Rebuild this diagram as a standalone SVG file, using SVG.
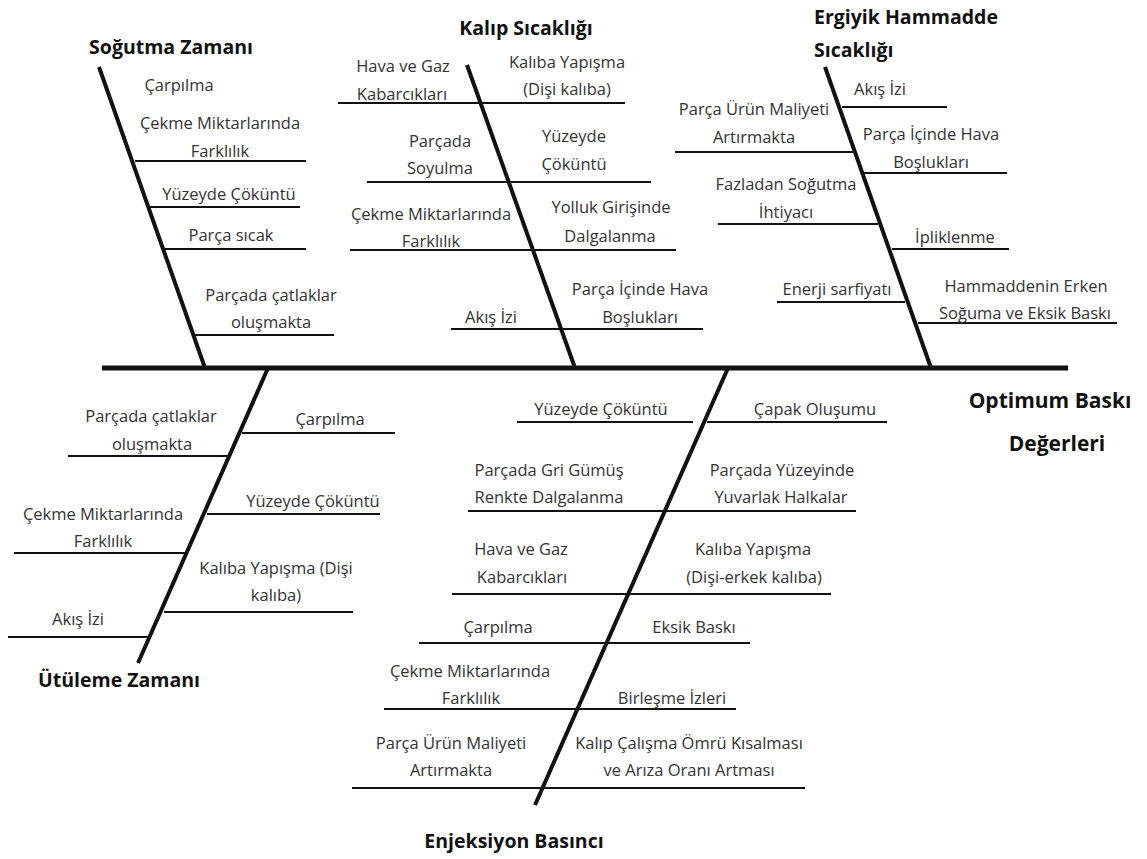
<svg xmlns="http://www.w3.org/2000/svg" width="1147" height="859" viewBox="0 0 1147 859">
<style>
.t{font-family:"Open Sans","Liberation Sans",sans-serif;font-size:16.5px;fill:#333;text-anchor:middle}
.h{font-family:"Open Sans","Liberation Sans",sans-serif;font-size:19.5px;font-weight:bold;fill:#111;text-anchor:middle}
.e{font-size:21px}
.s{stroke:#111;stroke-width:2;fill:none}
.b{stroke:#111;stroke-width:4;fill:none;stroke-linecap:butt}
.m{stroke:#111;stroke-width:5;fill:none}
</style>
<rect width="1147" height="859" fill="#fff"/>
<g id="connectors">
<line class="m" x1="102" y1="368" x2="1068" y2="368"/>
<line class="b" x1="99" y1="67" x2="205" y2="368"/>
<line class="b" x1="467" y1="65" x2="575" y2="368"/>
<line class="b" x1="825" y1="67" x2="931" y2="368"/>
<line class="b" x1="268" y1="368" x2="138" y2="663"/>
<line class="b" x1="728" y1="368" x2="535" y2="805"/>
<!-- Soğutma -->
<line class="s" x1="135" y1="161" x2="306" y2="161"/>
<line class="s" x1="148" y1="207" x2="300" y2="207"/>
<line class="s" x1="165" y1="249" x2="306" y2="249"/>
<line class="s" x1="195" y1="335" x2="334" y2="335"/>
<!-- Kalıp -->
<line class="s" x1="338" y1="103" x2="625" y2="103"/>
<line class="s" x1="367" y1="182" x2="651" y2="182"/>
<line class="s" x1="350" y1="250" x2="676" y2="250"/>
<line class="s" x1="451" y1="329" x2="703" y2="329"/>
<!-- Ergiyik -->
<line class="s" x1="842" y1="107" x2="947" y2="107"/>
<line class="s" x1="675" y1="152" x2="853" y2="152"/>
<line class="s" x1="864" y1="173" x2="1007" y2="173"/>
<line class="s" x1="718" y1="224" x2="878" y2="224"/>
<line class="s" x1="892" y1="249" x2="1009" y2="249"/>
<line class="s" x1="777" y1="302" x2="905" y2="302"/>
<line class="s" x1="918" y1="323" x2="1117" y2="323"/>
<!-- Ütüleme -->
<line class="s" x1="242" y1="433" x2="395" y2="433"/>
<line class="s" x1="68" y1="456" x2="230" y2="456"/>
<line class="s" x1="207" y1="514" x2="380" y2="514"/>
<line class="s" x1="14" y1="553" x2="185" y2="553"/>
<line class="s" x1="164" y1="612" x2="353" y2="612"/>
<line class="s" x1="8" y1="637" x2="148" y2="637"/>
<!-- Enjeksiyon -->
<line class="s" x1="517" y1="422" x2="693" y2="422"/>
<line class="s" x1="707" y1="422" x2="887" y2="422"/>
<line class="s" x1="468" y1="511" x2="856" y2="511"/>
<line class="s" x1="452" y1="594" x2="831" y2="594"/>
<line class="s" x1="419" y1="643" x2="750" y2="643"/>
<line class="s" x1="384" y1="709" x2="736" y2="709"/>
<line class="s" x1="352" y1="788" x2="805" y2="788"/>
</g>
<g id="effect">
<text class="h e" x="1050" y="408">Optimum Baskı</text>
<text class="h e" x="1057" y="451">Değerleri</text>
</g>
<g id="sogutma-zamani">
<text class="h" x="171" y="54">Soğutma Zamanı</text>
<text class="t" x="179" y="91">Çarpılma</text>
<text class="t" x="220" y="129">Çekme Miktarlarında</text>
<text class="t" x="220" y="157">Farklılık</text>
<text class="t" x="229" y="200">Yüzeyde Çöküntü</text>
<text class="t" x="231" y="241">Parça sıcak</text>
<text class="t" x="271" y="301">Parçada çatlaklar</text>
<text class="t" x="271" y="328">oluşmakta</text>
</g>
<g id="kalip-sicakligi">
<text class="h" x="526" y="35">Kalıp Sıcaklığı</text>
<text class="t" x="403" y="72">Hava ve Gaz</text>
<text class="t" x="402" y="100">Kabarcıkları</text>
<text class="t" x="567" y="68">Kalıba Yapışma</text>
<text class="t" x="567" y="95">(Dişi kalıba)</text>
<text class="t" x="440" y="147">Parçada</text>
<text class="t" x="440" y="174">Soyulma</text>
<text class="t" x="574" y="142">Yüzeyde</text>
<text class="t" x="574" y="170">Çöküntü</text>
<text class="t" x="431" y="220">Çekme Miktarlarında</text>
<text class="t" x="431" y="247">Farklılık</text>
<text class="t" x="611" y="213">Yolluk Girişinde</text>
<text class="t" x="610" y="242">Dalgalanma</text>
<text class="t" x="491" y="323">Akış İzi</text>
<text class="t" x="640" y="295">Parça İçinde Hava</text>
<text class="t" x="640" y="323">Boşlukları</text>
</g>
<g id="ergiyik-hammadde-sicakligi">
<text class="h" x="814" y="24" style="text-anchor:start">Ergiyik Hammadde</text>
<text class="h" x="814" y="57" style="text-anchor:start">Sıcaklığı</text>
<text class="t" x="880" y="95">Akış İzi</text>
<text class="t" x="754" y="115">Parça Ürün Maliyeti</text>
<text class="t" x="754" y="143">Artırmakta</text>
<text class="t" x="931" y="140">Parça İçinde Hava</text>
<text class="t" x="931" y="168">Boşlukları</text>
<text class="t" x="786" y="190">Fazladan Soğutma</text>
<text class="t" x="786" y="218">İhtiyacı</text>
<text class="t" x="955" y="243">İpliklenme</text>
<text class="t" x="837" y="295">Enerji sarfiyatı</text>
<text class="t" x="1026" y="292">Hammaddenin Erken</text>
<text class="t" x="1025" y="319">Soğuma ve Eksik Baskı</text>
</g>
<g id="utuleme-zamani">
<text class="h" x="119" y="687">Ütüleme Zamanı</text>
<text class="t" x="151" y="422">Parçada çatlaklar</text>
<text class="t" x="152" y="450">oluşmakta</text>
<text class="t" x="330" y="425">Çarpılma</text>
<text class="t" x="313" y="507">Yüzeyde Çöküntü</text>
<text class="t" x="103" y="520">Çekme Miktarlarında</text>
<text class="t" x="103" y="547">Farklılık</text>
<text class="t" x="276" y="574">Kalıba Yapışma (Dişi</text>
<text class="t" x="276" y="601">kalıba)</text>
<text class="t" x="78" y="625">Akış İzi</text>
</g>
<g id="enjeksiyon-basinci">
<text class="h" x="514" y="848">Enjeksiyon Basıncı</text>
<text class="t" x="601" y="415">Yüzeyde Çöküntü</text>
<text class="t" x="815" y="415">Çapak Oluşumu</text>
<text class="t" x="549" y="476">Parçada Gri Gümüş</text>
<text class="t" x="549" y="503">Renkte Dalgalanma</text>
<text class="t" x="782" y="476">Parçada Yüzeyinde</text>
<text class="t" x="781" y="503">Yuvarlak Halkalar</text>
<text class="t" x="521" y="555">Hava ve Gaz</text>
<text class="t" x="522" y="583">Kabarcıkları</text>
<text class="t" x="753" y="555">Kalıba Yapışma</text>
<text class="t" x="754" y="583">(Dişi-erkek kalıba)</text>
<text class="t" x="498" y="633">Çarpılma</text>
<text class="t" x="694" y="633">Eksik Baskı</text>
<text class="t" x="470" y="677">Çekme Miktarlarında</text>
<text class="t" x="471" y="704">Farklılık</text>
<text class="t" x="672" y="704">Birleşme İzleri</text>
<text class="t" x="451" y="749">Parça Ürün Maliyeti</text>
<text class="t" x="451" y="776">Artırmakta</text>
<text class="t" x="689" y="749">Kalıp Çalışma Ömrü Kısalması</text>
<text class="t" x="689" y="776">ve Arıza Oranı Artması</text>
</g>
</svg>
